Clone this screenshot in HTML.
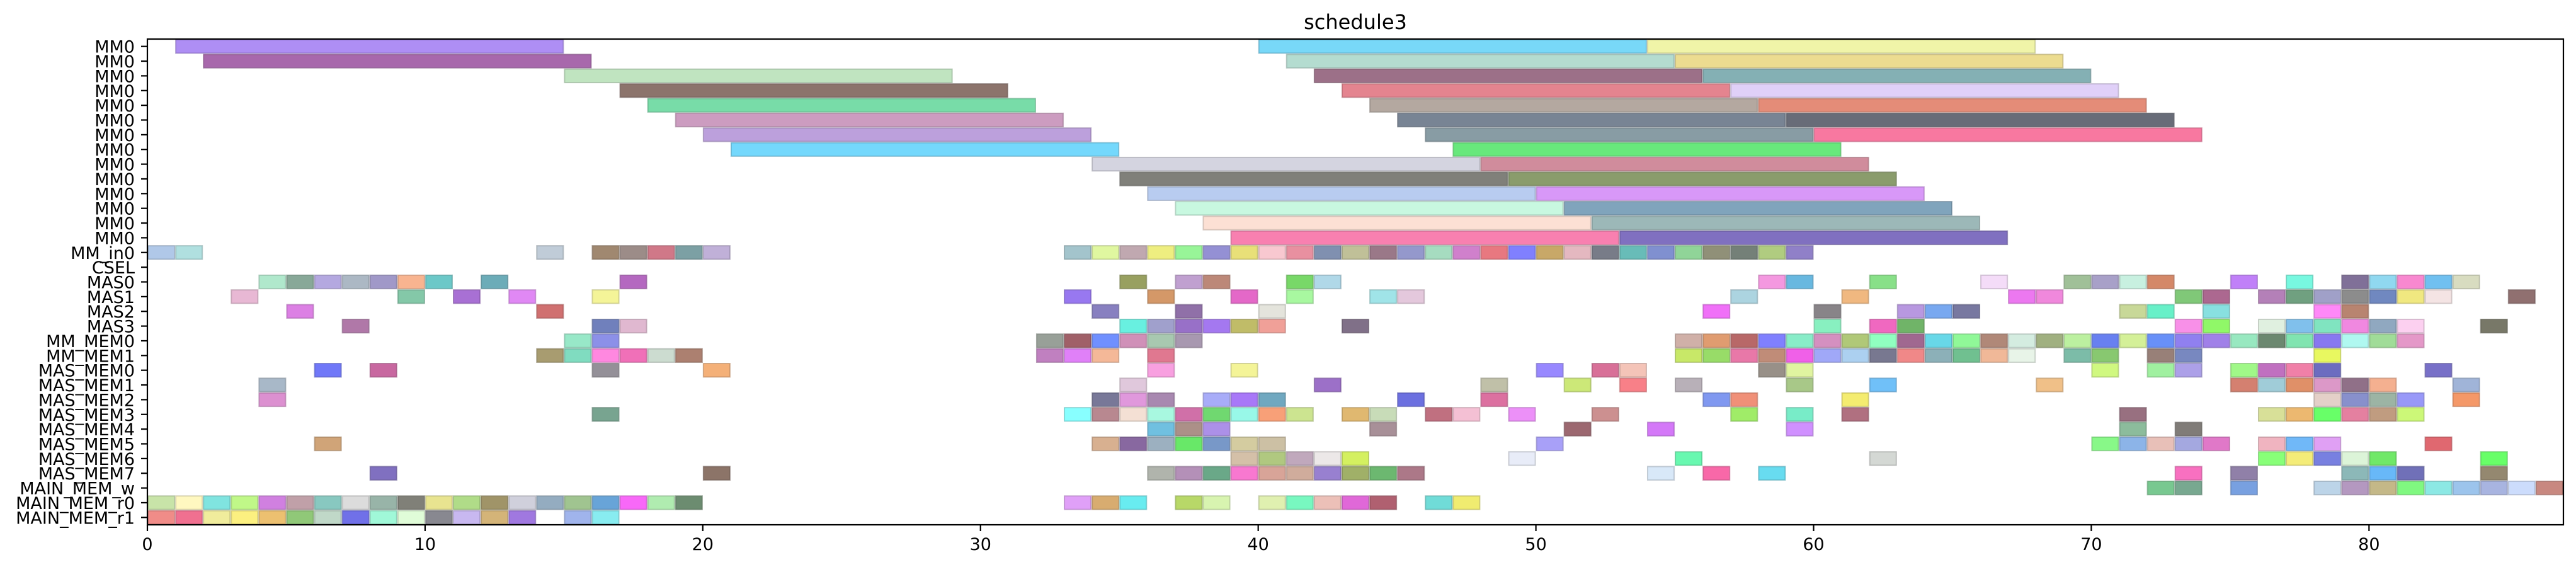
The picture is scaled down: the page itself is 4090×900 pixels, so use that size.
<!DOCTYPE html>
<html><head><meta charset="utf-8"><title>schedule3</title>
<style>html,body{margin:0;padding:0;background:#fff}svg{display:block}text{font-family:"DejaVu Sans","Liberation Sans",sans-serif;fill:#000}</style>
</head><body>
<svg id="chart" xmlns="http://www.w3.org/2000/svg" width="4090" height="900" viewBox="0 0 4090 900">
<text x="2152" y="46" font-size="32" text-anchor="middle">schedule3</text>
<g id="marks"></g>
<g id="axes"></g>
</svg>
<script>
const rowLabels = ["MM0","MM0","MM0","MM0","MM0","MM0","MM0","MM0","MM0","MM0","MM0","MM0","MM0","MM0","MM_in0","CSEL","MAS0","MAS1","MAS2","MAS3","MM_MEM0","MM_MEM1","MAS_MEM0","MAS_MEM1","MAS_MEM2","MAS_MEM3","MAS_MEM4","MAS_MEM5","MAS_MEM6","MAS_MEM7","MAIN_MEM_w","MAIN_MEM_r0","MAIN_MEM_r1"];
const xTicks = [0,10,20,30,40,50,60,70,80];
const xMax = 87;
// long MM0 bars
const barRow   = [0,0,0, 1,1,1, 2,2,2, 3,3,3, 4,4,4, 5,5,5, 6,6,6, 7,7, 8,8, 9,9, 10,10, 11,11, 12,12, 13,13];
const barStart = [1,40,54, 2,41,55, 15,42,56, 17,43,57, 18,44,58, 19,45,59, 20,46,60, 21,47, 34,48, 35,49, 36,50, 37,51, 38,52, 39,53];
const barEnd   = [15,54,68, 16,55,69, 29,56,70, 31,57,71, 32,58,72, 33,59,73, 34,60,74, 35,61, 48,62, 49,63, 50,64, 51,65, 52,66, 53,67];
const barColor = ["#ae8ef4","#78d8f8","#f0f4a8","#a868ac","#b4dcd0","#ecdc90","#c0e4c0","#9c7088","#84b0b4","#8c746c","#e4848f","#e0d0f8","#78dca8","#b4a8a0","#e48c78","#cc9cc0","#788494","#686c78","#bca0dc","#889ca4","#f878a0","#74d8fc","#68e87c","#d4d4e0","#d08c9c","#80807a","#8a9c6c","#b8ccf0","#d898f8","#c8f8e0","#80a4bc","#fce0d4","#9cb8b8","#f880b0","#8070c0"];
// unit-length blocks, per row (index = row)
const blockStarts = {
14:[0,1,14,16,17,18,19,20,33,34,35,36,37,38,39,40,41,42,43,44,45,46,47,48,49,50,51,52,53,54,55,56,57,58,59],
16:[4,5,6,7,8,9,10,12,17,35,37,38,41,42,58,59,62,66,69,70,71,72,75,77,79,80,81,82,83],
17:[3,9,11,13,16,33,36,39,41,44,45,57,61,67,68,73,74,76,77,78,79,80,81,82,85],
18:[5,14,34,37,40,56,60,63,64,65,71,72,74,78,79],
19:[7,16,17,35,36,37,38,39,40,43,60,62,63,73,74,76,77,78,79,80,81,84],
20:[15,16,32,33,34,35,36,37,55,56,57,58,59,60,61,62,63,64,65,66,67,68,69,70,71,72,73,74,75,76,77,78,79,80,81],
21:[14,15,16,17,18,19,32,33,34,36,55,56,57,58,59,60,61,62,63,64,65,66,67,69,70,72,73,78],
22:[6,8,16,20,36,39,50,52,53,58,59,70,72,73,75,76,77,78,82],
23:[4,35,42,48,51,53,55,59,62,68,75,76,77,78,79,80,83],
24:[4,34,35,36,38,39,40,45,48,56,57,61,78,79,80,81,83],
25:[16,33,34,35,36,37,38,39,40,41,43,44,46,47,49,52,57,59,61,71,76,77,78,79,80,81],
26:[36,37,38,44,51,54,59,71,73],
27:[6,34,35,36,37,38,39,40,50,70,71,72,73,74,76,77,78,82],
28:[39,40,41,42,43,49,55,62,76,77,78,79,80,84],
29:[8,20,36,37,38,39,40,41,42,43,44,45,54,56,58,73,75,79,80,81,84],
30:[72,73,75,78,79,80,81,82,83,84,85,86],
31:[0,1,2,3,4,5,6,7,8,9,10,11,12,13,14,15,16,17,18,19,33,34,35,37,38,40,41,42,43,44,46,47],
32:[0,1,2,3,4,5,6,7,8,9,10,11,12,13,15,16]
};
const blockColors = {
14:["#b0c8e8","#b0e0e0","#c0ccd8","#a08870","#9c8c88","#d07888","#7ca0a4","#c0b0d8","#a3c4cc","#e0f7a0","#c0a8b0","#eeee80","#98f598","#9490d4","#e8e078","#f8c8d0","#e890a0","#8090b0","#c0c098","#9a7888","#9498cc","#a6dcc0","#d080cc","#e87880","#8080ff","#c8a868","#e4b8c0","#787c88","#68bcb8","#8090d0","#90d498","#909078","#748078","#b0cc80","#9080c8"],
16:["#b0e8cc","#88a898","#b4a8e0","#acb8c4","#a098c8","#f8b490","#6cc8c8","#6cacb8","#b468c0","#98a060","#c0a0d0","#bc8878","#78d868","#b0d8e8","#f498e0","#68b8e0","#88e088","#f4dcf8","#a0c098","#a8a0c8","#c8f0e0","#d48868","#c080f8","#78f8e0","#807098","#90d8f0","#f888d0","#70c0f0","#d8dcc0"],
17:["#e8b8d4","#84c8a8","#a870d4","#e088f4","#f4f498","#9878f0","#d49868","#e468c8","#a8f8a0","#a0e4e8","#e4c8dc","#acd4e0","#f0b880","#ec78f0","#f088dc","#80c878","#ac6890","#b480b8","#70a080","#a0a0c8","#8c8c8c","#7088c0","#f0e880","#f4e4e4","#907070"],
18:["#dc80e4","#d07070","#8880c0","#9070a8","#e4e4dc","#f070f8","#888488","#b898e0","#78a8f0","#7878a0","#c8d898","#68f0c8","#88e0e0","#ff88f8","#b88470"],
19:["#b078a8","#7080bc","#e0b8d0","#68f0e0","#a0a0cc","#9870c8","#a478f0","#c0bc68","#f0a098","#807088","#88f0c0","#f068c0","#70b468","#f890e8","#90f868","#e0f0e0","#80c0ec","#80e4c0","#f088e0","#90a8c0","#fcd0f0","#787868"],
20:["#98e8c8","#8c90e8","#98a098","#a06068","#7090ff","#d090b8","#a8c8b0","#a898b0","#d0b0a8","#e09c70","#b86868","#8080ff","#88ecc8","#d490c0","#b0c878","#90ffc0","#a06890","#68d8e8","#90f898","#b08878","#d4ece0","#a0b080","#bcf0a0","#6880f0","#d4f098","#6890f8","#9080f0","#a080e8","#98e8c0","#6c8870","#80e4b0","#8878f0","#b0f8f0","#a0dc98","#e498c8"],
21:["#a89c70","#80dcc0","#ff88e0","#f070b8","#ccdcd0","#ac8070","#c080c0","#e080f8","#f4b898","#e07890","#c8e868","#98dc68","#e878a8","#c08c78","#f060e8","#a0a8f8","#acd0f0","#787890","#f08888","#8cb0b8","#70c090","#f0b898","#e8f4e8","#7cbca8","#88c870","#988078","#7888c0","#e8f860"],
22:["#7078f8","#c868a0","#949098","#f4b078","#f8a0e0","#f4f498","#9888ff","#d87098","#f4c4b8","#989088","#e0f4a0","#d0f880","#a0f0a0","#aca0e8","#a0f888","#c070c0","#f080a8","#6c6cc0","#7870c8"],
23:["#a8b8c8","#e0c8dc","#9c70c8","#c0c0a8","#cce878","#f88088","#b8b0b8","#a8c888","#70c0f8","#f0c088","#d48070","#a0ccd8","#e09068","#dc98c8","#907088","#f4b090","#a0b4d8"],
24:["#dc90d0","#787898","#e098dc","#a888b0","#a8acf8","#a878f8","#70a8c0","#6c70e0","#dc70a0","#8098f0","#f09078","#f4ec70","#e4d0c8","#8890cc","#9cb4a4","#9898f8","#f49868"],
25:["#78a490","#88ffff","#b88890","#f4e0d4","#a8f8e0","#d070a8","#70d870","#98f8e8","#f8a078","#cce490","#e0b870","#c8dcb8","#c07080","#f4c0d4","#ec90f8","#cc9090","#a0ec68","#78ecc8","#b07080","#987080","#d8e098","#ecb870","#68ff68","#e480a0","#c09c80","#ccf878"],
26:["#70c0e0","#ac9088","#ac90e8","#a89098","#9c6870","#d478f8","#d090ff","#8cbc9c","#807c78"],
27:["#d0a478","#d8b090","#8868a0","#9cb0c0","#68e868","#7898c8","#d4cca0","#ccc0a4","#a8a0f8","#88f888","#8cb4e8","#e8c0b8","#a4a8e0","#e078c8","#f0b4c0","#70b8f8","#e0a0f4","#e06870"],
28:["#d4c0a8","#b0c880","#c0a8bc","#ece8e8","#d4f060","#e8ecf8","#68f8b0","#d4d8d4","#88ff78","#f4ec78","#7880e0","#dcf4d8","#70e868","#68ff68"],
29:["#8070c0","#8c7468","#b0b4ac","#b490b8","#6aa888","#f878d0","#d8a498","#d0ac9c","#9880d0","#a0b068","#6cb870","#ac7888","#d8e8f8","#f868a8","#68dcf0","#f870c0","#9080a8","#8cb8b8","#68b8f8","#7070b8","#948870"],
30:["#78c890","#78a890","#78a0e0","#bcd4e8","#b498c0","#c4b888","#80f880","#8ce8e4","#9cc4ec","#a8b4e0","#ccdcfc","#c88880"],
31:["#c8e4a8","#fff8c0","#80e4e0","#c0f888","#d080e0","#c0a0a8","#88c8c0","#dcdcdc","#98b4a8","#808078","#e8e490","#b0dc88","#a09468","#d0d0dc","#94acc0","#a0c490","#68a4d8","#f868f8","#b0ecb0","#6c8c70","#e0a0f8","#d8ac70","#68ecf0","#b8d868","#d8f4b0","#e0f0b0","#78f8c0","#ecc0b8","#e068d8","#b06070","#70dcd8","#f0ec70"],
32:["#f08c88","#f07090","#f0ec9c","#fcf080","#ecc070","#90c878","#c0d8c8","#7070e8","#a0f8d8","#e0fcd8","#888890","#c8b8f0","#d4b478","#a078e0","#a0b4ec","#88ecf0"]
};

const NS = "http://www.w3.org/2000/svg";
const L = 234, R = 4070, T = 62, B = 833;
const nRows = rowLabels.length;
const rowH = (B - T) / nRows;
function xs(u){ return L + u * (R - L) / xMax; }
function ys(r){ return T + r * rowH; }
function darken(hex){
  const n = parseInt(hex.slice(1), 16);
  const f = 0.75;
  const r = Math.round(((n >> 16) & 255) * f), g = Math.round(((n >> 8) & 255) * f), b = Math.round((n & 255) * f);
  return "rgb(" + r + "," + g + "," + b + ")";
}
const marks = document.getElementById("marks");
function rect(x0, x1, row, color){
  const el = document.createElementNS(NS, "rect");
  el.setAttribute("x", xs(x0) + 1);
  el.setAttribute("y", ys(row) + 1);
  el.setAttribute("width", Math.max(0, xs(x1) - xs(x0) - 2));
  el.setAttribute("height", rowH - 2);
  el.setAttribute("fill", color);
  el.setAttribute("stroke", darken(color));
  el.setAttribute("stroke-opacity", "0.6");
  el.setAttribute("stroke-width", "2");
  marks.appendChild(el);
  return el;
}
for (let i = 0; i < barRow.length; i++) {
  const el = rect(barStart[i], barEnd[i], barRow[i], barColor[i]);
  
  
}
Object.keys(blockStarts).forEach(function(k){
  const row = +k;
  const starts = blockStarts[k], cols = blockColors[k];
  for (let j = 0; j < starts.length; j++) {
    const el = rect(starts[j], starts[j] + 1, row, cols[j]);
    
    
  }
});

const axes = document.getElementById("axes");
function line(x1, y1, x2, y2, w){
  const el = document.createElementNS(NS, "line");
  el.setAttribute("x1", x1); el.setAttribute("y1", y1);
  el.setAttribute("x2", x2); el.setAttribute("y2", y2);
  el.setAttribute("stroke", "#000"); el.setAttribute("stroke-width", w);
  axes.appendChild(el);
  return el;
}
function text(x, y, s, anchor, size){
  const el = document.createElementNS(NS, "text");
  el.setAttribute("x", x); el.setAttribute("y", y);
  el.setAttribute("text-anchor", anchor);
  el.setAttribute("font-size", size);
  el.textContent = s;
  axes.appendChild(el);
  return el;
}
const frame = document.createElementNS(NS, "rect");
frame.setAttribute("x", L); frame.setAttribute("y", T);
frame.setAttribute("width", R - L); frame.setAttribute("height", B - T);
frame.setAttribute("fill", "none"); frame.setAttribute("stroke", "#000"); frame.setAttribute("stroke-width", "2.2");


axes.appendChild(frame);
for (let i = 0; i < nRows; i++) {
  const yc = ys(i) + rowH / 2;
  const tk = line(L - 10, yc, L, yc, 2.2);
  
  
  const lb = text(214, yc + 10, rowLabels[i], "end", 27);
  
  
}
for (let i = 0; i < xTicks.length; i++) {
  const xv = xs(xTicks[i]);
  const tk = line(xv, B, xv, B + 10, 2.2);
  
  
  const lb = text(xv, 873, String(xTicks[i]), "middle", 27);
  
  
}
</script>
</body></html>
